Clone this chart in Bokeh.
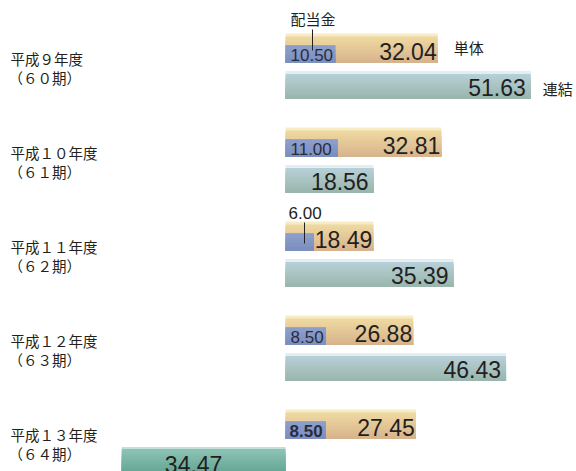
from bokeh.plotting import figure
from bokeh.models import Range1d
from bokeh.core.properties import value
from bokeh.embed import file_html
from bokeh.resources import INLINE

# ---- data ----
years = ["平成９年度", "平成１０年度", "平成１１年度", "平成１２年度", "平成１３年度"]
periods = ["（６０期）", "（６１期）", "（６２期）", "（６３期）", "（６４期）"]
dividend = [10.50, 11.00, 6.00, 8.50, 8.50]          # 配当金
parent = [32.04, 32.81, 18.49, 26.88, 27.45]          # 単体
consolidated = [51.63, 18.56, 35.39, 46.43, -34.47]   # 連結

# ---- layout ----
W, H = 576, 471
ZERO = 285.0      # pixel of zero in frame
S = 4.75          # pixels per unit
ROW0, STEP = 33.0, 94.0

p = figure(width=W, height=H, output_backend="svg", toolbar_location=None,
           x_range=Range1d(-ZERO / S, (W - ZERO) / S),
           y_range=Range1d(H, 0), min_border=0)
p.axis.visible = False
p.grid.visible = False
p.outline_line_color = None
p.background_fill_color = "white"

NUM = "Liberation Sans"
JP = "Noto Sans CJK JP"
TXT = "#231f20"


def hx(c):
    c = c.lstrip("#")
    return tuple(int(c[i:i + 2], 16) for i in (0, 2, 4))


def mix(a, b, t):
    a, b = hx(a), hx(b)
    return "#%02x%02x%02x" % tuple(round(a[i] + (b[i] - a[i]) * t) for i in range(3))


def gbar(lefts, rights, tops, bots, hi, c1, c2, n=10, hl=3.0):
    # layered strips: each one reaches the bar bottom, so there are no seams
    p.quad(left=lefts, right=rights, top=tops, bottom=bots,
           fill_color=hi, line_color=None)
    for k in range(n):
        t0 = [t + hl + (b - t - hl) * k / n for t, b in zip(tops, bots)]
        p.quad(left=lefts, right=rights, top=t0, bottom=bots,
               fill_color=mix(c1, c2, k / (n - 1)), line_color=None)


N = len(years)
T = [ROW0 + STEP * i for i in range(N)]
zeros = [0.0] * N

gbar(zeros, parent, T, [t + 29.5 for t in T], "#f7ebc4", "#eed8a0", "#d8b48e")
gbar(zeros, dividend, [t + 11.5 for t in T], [t + 29.5 for t in T], "#93a6cf", "#8b9dc9", "#7c90c0", n=4, hl=1.0)
pos_i = [i for i in range(N) if consolidated[i] >= 0]
neg_i = [i for i in range(N) if consolidated[i] < 0]
gbar([0.0] * len(pos_i), [consolidated[i] for i in pos_i], [T[i] + 37.5 for i in pos_i],
     [T[i] + 65.5 for i in pos_i], "#e2eff2", "#b6cfd6", "#9ab6ae")
gbar([consolidated[i] for i in neg_i], [0.0] * len(neg_i), [T[i] + 37.5 for i in neg_i],
     [T[i] + 65.5 for i in neg_i], "#c2e0d8", "#8cc2b4", "#62a492", n=10, hl=2.0)

p.text(x=parent, y=[t + 18 for t in T], text=[f"{v:.2f}" for v in parent],
       text_font=value(NUM), text_font_size="23px", text_color=TXT,
       text_align="right", text_baseline="middle", x_offset=-1)

pos_lab = [f"{consolidated[i]:.2f}" for i in pos_i]
p.text(x=[consolidated[i] for i in pos_i], y=[T[i] + 54 for i in pos_i], text=pos_lab,
       text_font=value(NUM), text_font_size="23px", text_color=TXT,
       text_align="right", text_baseline="middle", x_offset=-5)
p.text(x=[consolidated[i] / 2 for i in neg_i], y=[T[i] + 55 for i in neg_i],
       text=[f"{abs(consolidated[i]):.2f}" for i in neg_i],
       text_font=value(NUM), text_font_size="23px", text_color=TXT,
       text_align="center", text_baseline="middle", x_offset=-10)

small = [i for i in range(N) if dividend[i] < 7]
inside = [i for i in range(N) if dividend[i] >= 7 and i != N - 1]
p.text(x=[0.0] * len(inside), y=[T[i] + 21 for i in inside],
       text=[f"{dividend[i]:.2f}" for i in inside],
       text_font=value(NUM), text_font_size="17px", text_color="#2a2c3c",
       text_align="left", text_baseline="middle", x_offset=5)
p.text(x=[0.0], y=[T[N - 1] + 21], text=[f"{dividend[N - 1]:.2f}"],
       text_font=value(NUM), text_font_size="17px", text_font_style="bold",
       text_color="#2a2c3c", text_align="left", text_baseline="middle", x_offset=4)
p.text(x=[0.0] * len(small), y=[T[i] - 9 for i in small],
       text=[f"{dividend[i]:.2f}" for i in small],
       text_font=value(NUM), text_font_size="17px", text_color=TXT,
       text_align="left", text_baseline="middle", x_offset=3)
p.segment(x0=[19 / S] * len(small), x1=[19 / S] * len(small),
          y0=[T[i] + 1 for i in small], y1=[T[i] + 22 for i in small],
          line_color="#222222", line_width=1)

p.text(x=[0.0], y=[T[0] - 15], text=["配当金"], text_font=value(JP), text_font_size="15px",
       text_color=TXT, text_align="left", text_baseline="middle", x_offset=5)
p.segment(x0=[27 / S], x1=[27 / S], y0=[T[0] - 4], y1=[T[0] + 17], line_color="#222222", line_width=1)
p.text(x=[parent[0]], y=[T[0] + 14], text=["単体"], text_font=value(JP), text_font_size="15px",
       text_color=TXT, text_align="left", text_baseline="middle", x_offset=16)
p.text(x=[consolidated[0]], y=[T[0] + 55], text=["連結"], text_font=value(JP), text_font_size="15px",
       text_color=TXT, text_align="left", text_baseline="middle", x_offset=12)

xl = -ZERO / S
p.text(x=[xl] * N, y=[t + 25 for t in T], text=years, text_font=value(JP), text_font_size="14.5px",
       text_color=TXT, text_align="left", text_baseline="middle", x_offset=10)
p.text(x=[xl] * N, y=[t + 44 for t in T], text=periods, text_font=value(JP), text_font_size="14.5px",
       text_color=TXT, text_align="left", text_baseline="middle", x_offset=8)

open("out.html", "w").write(file_html(p, INLINE))
